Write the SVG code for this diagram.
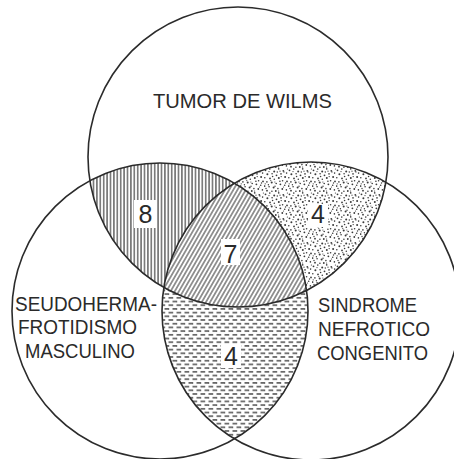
<svg xmlns="http://www.w3.org/2000/svg" width="454" height="459" viewBox="0 0 454 459">
<style>
.ring{fill:none;stroke:#2b2b2b;stroke-width:1.6}
.lbl{font-family:"Liberation Sans",Arial,sans-serif;font-size:20px;fill:#2a2a2a}
.ttl{font-family:"Liberation Sans",Arial,sans-serif;font-size:21px;fill:#2a2a2a}
.num{font-family:"Liberation Sans",Arial,sans-serif;font-size:25px;fill:#2a2a2a;text-anchor:middle}
.box{fill:#ffffff}
</style>
<defs>
<clipPath id="cT"><circle cx="238" cy="157" r="150"/></clipPath>
<clipPath id="cL"><circle cx="160" cy="311" r="148"/></clipPath>
<clipPath id="cR"><circle cx="311" cy="311" r="149"/></clipPath>
<pattern id="pVert" patternUnits="userSpaceOnUse" width="3.4" height="10">
<line x1="1.7" y1="0" x2="1.7" y2="10" stroke="#333" stroke-width="1.1"/>
</pattern>
<pattern id="pDiag" patternUnits="userSpaceOnUse" width="3.6" height="10" patternTransform="rotate(30)">
<line x1="1.8" y1="0" x2="1.8" y2="10" stroke="#333" stroke-width="1"/>
</pattern>
<pattern id="pDash" patternUnits="userSpaceOnUse" width="8" height="7.4">
<line x1="0.5" y1="1.8" x2="5.2" y2="1.8" stroke="#333" stroke-width="1.3"/>
<line x1="4.5" y1="5.5" x2="9.2" y2="5.5" stroke="#333" stroke-width="1.3"/>
<line x1="-3.5" y1="5.5" x2="1.2" y2="5.5" stroke="#333" stroke-width="1.3"/>
</pattern>
<pattern id="pDots" patternUnits="userSpaceOnUse" width="24" height="24">
<g fill="#3a3a3a">
<circle cx="1.5" cy="2.3" r="0.9"/><circle cx="5.8" cy="1.1" r="0.8"/><circle cx="10.2" cy="3.4" r="1"/><circle cx="14.7" cy="0.9" r="0.8"/><circle cx="19.3" cy="2.8" r="0.9"/>
<circle cx="22.6" cy="5.1" r="0.8"/><circle cx="3.4" cy="6.2" r="1"/><circle cx="8.1" cy="5.7" r="0.8"/><circle cx="12.5" cy="7.3" r="0.9"/><circle cx="17" cy="5.9" r="0.8"/>
<circle cx="21.1" cy="9" r="1"/><circle cx="0.8" cy="9.8" r="0.8"/><circle cx="6" cy="10.4" r="0.9"/><circle cx="10.3" cy="11.2" r="0.8"/><circle cx="14.8" cy="10.1" r="1"/>
<circle cx="18.6" cy="12.7" r="0.8"/><circle cx="23" cy="13.4" r="0.9"/><circle cx="2.9" cy="13.9" r="0.8"/><circle cx="7.7" cy="14.6" r="1"/><circle cx="12.2" cy="15.5" r="0.8"/>
<circle cx="16.4" cy="16.3" r="0.9"/><circle cx="20.7" cy="17.2" r="0.8"/><circle cx="0.6" cy="18.1" r="0.9"/><circle cx="5.1" cy="18.8" r="0.8"/><circle cx="9.6" cy="19.4" r="1"/>
<circle cx="13.9" cy="20.6" r="0.8"/><circle cx="18.3" cy="21" r="0.9"/><circle cx="22.4" cy="21.9" r="0.8"/><circle cx="3" cy="22.7" r="0.9"/><circle cx="7.9" cy="23.2" r="0.8"/>
<circle cx="11.8" cy="23" r="0.9"/><circle cx="8.6" cy="8.5" r="0.8"/><circle cx="19.9" cy="3.9" r="0.7"/><circle cx="4.4" cy="16.8" r="0.7"/><circle cx="15.9" cy="13.3" r="0.8"/>
<circle cx="21.5" cy="15" r="0.7"/><circle cx="11" cy="18.2" r="0.7"/><circle cx="2" cy="20.5" r="0.7"/><circle cx="17.2" cy="8.6" r="0.7"/><circle cx="13.3" cy="4" r="0.7"/>
<circle cx="16" cy="3.2" r="0.6"/><circle cx="6.8" cy="12.6" r="0.6"/><circle cx="19.5" cy="19" r="0.6"/><circle cx="14.6" cy="23" r="0.6"/><circle cx="1.2" cy="15.8" r="0.6"/>
<circle cx="23.4" cy="1" r="0.6"/><circle cx="10.9" cy="14" r="0.6"/><circle cx="5" cy="3.6" r="0.6"/>
</g>
</pattern>
</defs>
<rect x="0" y="0" width="454" height="459" fill="#ffffff"/>
<g id="regions">
<g id="region-T-L" clip-path="url(#cT)"><rect x="0" y="0" width="454" height="459" fill="url(#pVert)" clip-path="url(#cL)"/></g>
<g id="region-T-R" clip-path="url(#cT)"><rect x="0" y="0" width="454" height="459" fill="url(#pDots)" clip-path="url(#cR)"/></g>
<g id="region-L-R" clip-path="url(#cL)"><rect x="0" y="0" width="454" height="459" fill="url(#pDash)" clip-path="url(#cR)"/></g>
<g id="region-T-L-R" clip-path="url(#cT)"><g clip-path="url(#cL)"><g clip-path="url(#cR)">
<rect x="0" y="0" width="454" height="459" fill="#ffffff"/>
<rect x="0" y="0" width="454" height="459" fill="url(#pDiag)"/>
</g></g></g>
</g>
<g id="tumor-wilms">
<circle class="ring" cx="238" cy="157" r="150"/>
<text class="ttl" x="153" y="108" textLength="179" lengthAdjust="spacingAndGlyphs">TUMOR DE WILMS</text>
</g>
<g id="seudohermafroditismo">
<circle class="ring" cx="160" cy="311" r="148"/>
<text class="lbl" x="15" y="311" textLength="142" lengthAdjust="spacingAndGlyphs">SEUDOHERMA-</text>
<text class="lbl" x="18" y="334" textLength="119" lengthAdjust="spacingAndGlyphs">FROTIDISMO</text>
<text class="lbl" x="25" y="358" textLength="110" lengthAdjust="spacingAndGlyphs">MASCULINO</text>
</g>
<g id="sindrome-nefrotico">
<circle class="ring" cx="311" cy="311" r="149"/>
<text class="lbl" x="318" y="312" textLength="99" lengthAdjust="spacingAndGlyphs">SINDROME</text>
<text class="lbl" x="318" y="336" textLength="112" lengthAdjust="spacingAndGlyphs">NEFROTICO</text>
<text class="lbl" x="317" y="360" textLength="111" lengthAdjust="spacingAndGlyphs">CONGENITO</text>
</g>
<g id="counts">
<rect class="box" x="134" y="200" width="23" height="28"/>
<text class="num" x="145.5" y="223">8</text>
<rect class="box" x="221" y="239" width="19" height="26"/>
<text class="num" x="230.5" y="263">7</text>
<rect class="box" x="308" y="204" width="20" height="23"/>
<text class="num" x="318" y="223">4</text>
<rect class="box" x="221" y="344" width="20" height="24"/>
<text class="num" x="231" y="365">4</text>
</g>
</svg>
